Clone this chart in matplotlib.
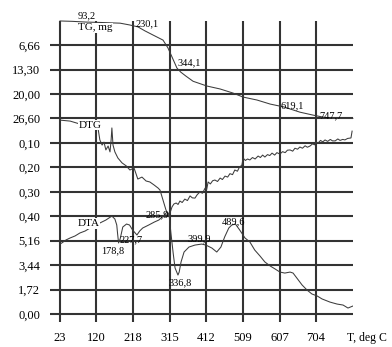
import numpy as np
import matplotlib
matplotlib.use("Agg")
import matplotlib.pyplot as plt

# temperature grid and row labels (rows counted from the bottom line)
T_TICKS = [23, 120, 218, 315, 412, 509, 607, 704]
ROW_LABELS = ["0,00", "1,72", "3,44", "5,16",
              "0,40", "0,30", "0,20", "0,10",
              "26,60", "20,00", "13,30", "6,66"]

# TG, mass loss in mg
tg_t = [23, 55, 93.2, 129, 183, 209, 230.1, 249, 270, 297, 310, 321, 334, 344.1,
        358, 377, 414, 449, 483, 510, 547, 582, 619.1, 661, 696, 720, 747.7, 802]
tg_mg = [0.1, 0.2, 0.4, 0.5, 0.7, 1.2, 1.7, 2.8, 3.9, 5.3, 7.4, 9.9, 12.9, 14.0,
         15.1, 16.5, 17.8, 18.6, 19.7, 20.8, 21.6, 22.7, 23.5, 24.9, 25.7, 26.2, 26.6, 26.6]

# DTG
dtg_t = [23, 50, 76, 103, 124, 129, 135, 140, 145, 151,
         156, 159, 161, 164, 169, 177, 188, 199, 209, 220,
         230, 241, 252, 262, 273, 284, 289, 297, 305, 313,
         321, 326, 332, 337, 342, 348, 355, 362, 369, 375,
         382, 388, 395, 402, 409, 413, 417, 423, 429, 435,
         442, 449, 455, 462, 469, 475, 482, 488, 495, 500,
         504, 507, 510, 516, 522, 528, 535, 542, 550, 556,
         562, 568, 575, 581, 587, 594, 600, 608, 615, 622,
         628, 635, 642, 648, 655, 661, 668, 675, 681, 688,
         695, 700, 704, 710, 716, 722, 728, 735, 742, 748,
         755, 762, 768, 775, 781, 788, 797, 800]
dtg_v = [0.007, 0.011, 0.023, 0.027, 0.039, 0.088, 0.109, 0.097, 0.129, 0.113,
         0.137, 0.088, 0.039, 0.109, 0.137, 0.162, 0.182, 0.194, 0.211, 0.203,
         0.248, 0.240, 0.256, 0.260, 0.272, 0.285, 0.293, 0.334, 0.375, 0.399,
         0.362, 0.350, 0.346, 0.352, 0.338, 0.344, 0.330, 0.336, 0.317, 0.325,
         0.326, 0.312, 0.301, 0.306, 0.285, 0.292, 0.260, 0.268, 0.255, 0.252,
         0.258, 0.244, 0.250, 0.236, 0.240, 0.226, 0.230, 0.211, 0.216, 0.200,
         0.195, 0.190, 0.162, 0.172, 0.166, 0.170, 0.160, 0.166, 0.154, 0.160,
         0.150, 0.158, 0.148, 0.152, 0.142, 0.150, 0.140, 0.146, 0.136, 0.140,
         0.130, 0.129, 0.134, 0.122, 0.126, 0.117, 0.122, 0.112, 0.118, 0.113,
         0.104, 0.108, 0.097, 0.100, 0.090, 0.096, 0.088, 0.094, 0.086, 0.092,
         0.092, 0.084, 0.090, 0.086, 0.088, 0.082, 0.080, 0.052]

# DTA
dta_t = [23, 28, 39, 50, 63, 76, 90, 103, 116, 129,
         145, 161, 169, 174, 176, 178.8, 183, 190, 200, 208,
         216, 227.7, 235, 243, 259, 274, 285.9, 300, 308, 313,
         318, 324, 329, 336.8, 340, 345, 353, 366, 382, 399.9,
         411, 427, 440, 451, 461, 472, 480, 489.6, 501, 515,
         528, 541, 555, 568, 582, 595, 608, 621, 635, 643,
         653, 667, 680, 693, 707, 720, 741, 760, 776, 789, 802]
dta_v = [4.92, 5.00, 5.21, 5.35, 5.49, 5.70, 5.84, 6.05, 6.19, 6.40,
         6.61, 6.89, 6.68, 6.26, 5.70, 5.00, 5.28, 6.12, 6.33, 6.26,
         5.91, 5.56, 5.84, 6.05, 6.26, 6.47, 6.61, 6.96, 7.18, 7.04,
         5.70, 4.29, 3.24, 2.74, 2.95, 3.66, 4.36, 4.71, 4.85, 4.92,
         4.85, 4.64, 4.36, 4.71, 5.42, 6.05, 6.26, 6.33, 5.91, 5.35,
         5.07, 4.50, 4.08, 3.66, 3.38, 3.17, 2.95, 2.88, 2.95, 2.88,
         2.53, 2.04, 1.69, 1.41, 1.27, 1.06, 0.84, 0.70, 0.63, 0.42, 0.56]

# marked temperatures
tg_marks = [93.2, 230.1, 344.1, 619.1, 747.7]
dta_marks = [178.8, 227.7, 285.9, 336.8, 399.9, 489.6]

LINE = "#3c3c3c"
GRID = "#333333"
FONT = "Liberation Serif"


def tg_row(v):
    return 12 - np.asarray(v) / 6.65


def dtg_row(v):
    return 8 - np.asarray(v) * 10


def dta_row(v):
    return np.asarray(v) / 1.72


def fmt(v):
    return ("%.1f" % v).replace(".", ",")


fig = plt.figure(figsize=(3.92, 3.47), dpi=100)
ax = fig.add_axes([50 / 392, 25 / 347, 303 / 392, 301.4 / 347])
ax.set_xlim(-3.6, 802.4)
ax.set_ylim(-0.327, 12.0)
for s in ax.spines.values():
    s.set_visible(False)

for r in range(12):
    ax.axhline(r, color=GRID, lw=1.5, zorder=1)
for t in T_TICKS:
    ax.axvline(t, color=GRID, lw=1.5, zorder=1)

ax.set_xticks(T_TICKS)
ax.set_xticklabels([str(t) for t in T_TICKS])
ax.set_yticks(range(12))
ax.set_yticklabels(ROW_LABELS)
ax.tick_params(length=0, labelsize=9, labelfontfamily=FONT)
ax.tick_params(axis="x", pad=7.5)
ax.tick_params(axis="y", pad=7)

tg_y = tg_row(tg_mg)
dtg_y = dtg_row(dtg_v)
dta_y = dta_row(dta_v)
ax.plot(tg_t, tg_y, color=LINE, lw=0.75, zorder=3, clip_on=False)
ax.plot(dtg_t, dtg_y, color=LINE, lw=0.75, zorder=3)
ax.plot(dta_t, dta_y, color=LINE, lw=0.75, zorder=3)

box = dict(facecolor="white", edgecolor="none", pad=0.5)
ax.text(117, 11.70, "TG, mg", ha="center", va="center", fontsize=8,
        family=FONT, bbox=box, zorder=4)
ax.text(104, 7.73, "DTG", ha="center", va="center", fontsize=8,
        family=FONT, bbox=box, zorder=4)
ax.text(99, 3.70, "DTA", ha="center", va="center", fontsize=8,
        family=FONT, bbox=box, zorder=4)

tg_off = [(0, 4.3), (6.5, 2.2), (6, 6.5), (5.8, 0.7), (-0.7, 2.2)]
for t, off in zip(tg_marks, tg_off):
    ax.annotate(fmt(t), xy=(t, np.interp(t, tg_t, tg_y)), xytext=off,
                textcoords="offset points", ha="center", va="center",
                fontsize=7.5, family=FONT, zorder=5, annotation_clip=False)

dta_off = [(-4, -5.8), (-4.3, -3.6), (-1.4, 3.6), (1.4, -5.8), (-2, 3.6), (-1.4, 1.4)]
for t, off in zip(dta_marks, dta_off):
    ax.annotate(fmt(t), xy=(t, np.interp(t, dta_t, dta_y)), xytext=off,
                textcoords="offset points", ha="center", va="center",
                fontsize=7.5, family=FONT, zorder=5)

fig.text(367 / 392, 1 - 338 / 347, "T, deg C", ha="center", va="center",
         fontsize=8.5, family=FONT)

fig.savefig("out.png", dpi=100)
